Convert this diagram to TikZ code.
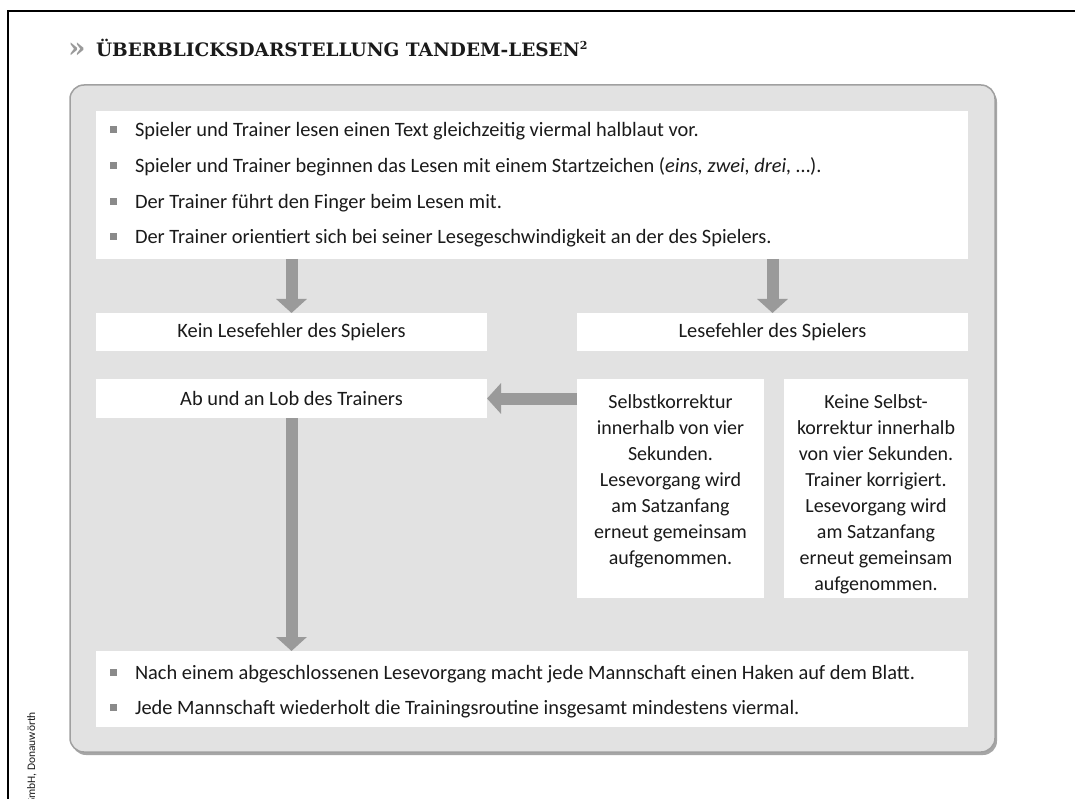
\documentclass[tikz,border=0pt]{standalone}
\usepackage{fontspec}
\setmainfont{Carlito}
\newfontfamily\titlefont{DejaVu Serif}
\newfontfamily\creditfont{Carlito}
\usetikzlibrary{arrows.meta,shadows}
\definecolor{panelfill}{HTML}{E2E2E2}
\definecolor{panelborder}{HTML}{A0A0A0}
\definecolor{arrowgray}{HTML}{9A9A9A}
\definecolor{bulletgray}{HTML}{8A8A8A}
\definecolor{textcol}{HTML}{1A1A1A}
\definecolor{chevcol}{HTML}{9A9A9A}
\begin{document}
\begin{tikzpicture}[x=1pt,y=-1pt,
  every node/.style={inner sep=0pt, outer sep=0pt},
  whitebox/.style={fill=white, draw=none},
  bodytext/.style={text=textcol, font=\fontsize{20.4}{26}\selectfont},
  talltext/.style={text=textcol, font=\fontsize{20}{26}\selectfont, align=center, anchor=north},
  bulletsq/.style={fill=bulletgray, minimum size=7pt},
  bigarrow/.style={draw=arrowgray, line width=12pt, -{Triangle[width=30pt,length=14pt]}},
]
\useasboundingbox (0,0) rectangle (1075,799);
\fill[white] (0,0) rectangle (1075,799);
\draw[line width=2pt] (8,805) -- (8,11) -- (1080,11);

% title
\node[text=chevcol, font=\titlefont\bfseries\fontsize{28}{28}\selectfont, anchor=base west] (chev) at (68,58) {»};
\node[text=textcol, font=\titlefont\bfseries\fontsize{18.5}{18.5}\selectfont, anchor=base west] (title) at (96,57)
  {ÜBERBLICKSDARSTELLUNG TANDEM-LESEN\raisebox{7pt}{\fontsize{11}{11}\selectfont 2}};

% panel
\node[draw=panelborder, line width=1.5pt, fill=panelfill, rounded corners=14pt,
      minimum width=925pt, minimum height=667pt,
      drop shadow={shadow xshift=2pt, shadow yshift=-3pt, opacity=0.35, fill=black}] (panel) at (532.5,418.5) {};

% top box
\node[whitebox, minimum width=872pt, minimum height=148pt] (intro) at (532,185) {};
\node[bulletsq] (ib1) at (113,130) {};
\node[bodytext, anchor=base west] (it1) at (135,137) {Spieler und Trainer lesen einen Text gleichzeitig viermal halblaut vor.};
\node[bulletsq] (ib2) at (113,166) {};
\node[bodytext, anchor=base west] (it2) at (135,173) {Spieler und Trainer beginnen das Lesen mit einem Startzeichen (\textit{eins, zwei, drei,} …).};
\node[bulletsq] (ib3) at (113,201.5) {};
\node[bodytext, anchor=base west] (it3) at (135,208.5) {Der Trainer führt den Finger beim Lesen mit.};
\node[bulletsq] (ib4) at (113,237) {};
\node[bodytext, anchor=base west] (it4) at (135,244) {Der Trainer orientiert sich bei seiner Lesegeschwindigkeit an der des Spielers.};

% second row
\node[whitebox, bodytext, minimum width=391pt, minimum height=38pt] (kein) at (291.5,332) {Kein Lesefehler des Spielers};
\node[whitebox, bodytext, minimum width=391pt, minimum height=38pt] (fehler) at (772.5,332) {Lesefehler des Spielers};

% third row
\node[whitebox, bodytext, minimum width=391pt, minimum height=39pt] (lob) at (291.5,398.5) {Ab und an Lob des Trainers};
\node[whitebox, minimum width=187pt, minimum height=219pt] (selbst) at (670.5,488.5) {};
\node[talltext] (selbsttxt) at (670.5,395)
  {Selbstkorrektur\\innerhalb von vier\\Sekunden.\\Lesevorgang wird\\am Satzanfang\\erneut gemeinsam\\aufgenommen.};
\node[whitebox, minimum width=184pt, minimum height=219pt] (keine) at (876,488.5) {};
\node[talltext] (keinetxt) at (876,395)
  {Keine Selbst-\\korrektur innerhalb\\von vier Sekunden.\\Trainer korrigiert.\\Lesevorgang wird\\am Satzanfang\\erneut gemeinsam\\aufgenommen.};

% bottom box
\node[whitebox, minimum width=872pt, minimum height=76pt] (outro) at (532,689) {};
\node[bulletsq] (ob1) at (113,672) {};
\node[bodytext, anchor=base west] (ot1) at (135,679) {Nach einem abgeschlossenen Lesevorgang macht jede Mannschaft einen Haken auf dem Blatt.};
\node[bulletsq] (ob2) at (113,707.5) {};
\node[bodytext, anchor=base west] (ot2) at (135,714.5) {Jede Mannschaft wiederholt die Trainingsroutine insgesamt mindestens viermal.};

% arrows
\draw[bigarrow] (kein.north |- intro.south) -- (kein.north);
\draw[bigarrow] (fehler.north |- intro.south) -- (fehler.north);
\draw[bigarrow] (lob.east -| selbst.west) -- (lob.east);
\draw[bigarrow] (lob.south) -- (lob.south |- outro.north);

% credit
\node[rotate=90, anchor=base east, text=textcol, font=\creditfont\fontsize{11.5}{11.5}\selectfont] (credit) at (35,712) {GmbH, Donauwörth};
\end{tikzpicture}
\end{document}
